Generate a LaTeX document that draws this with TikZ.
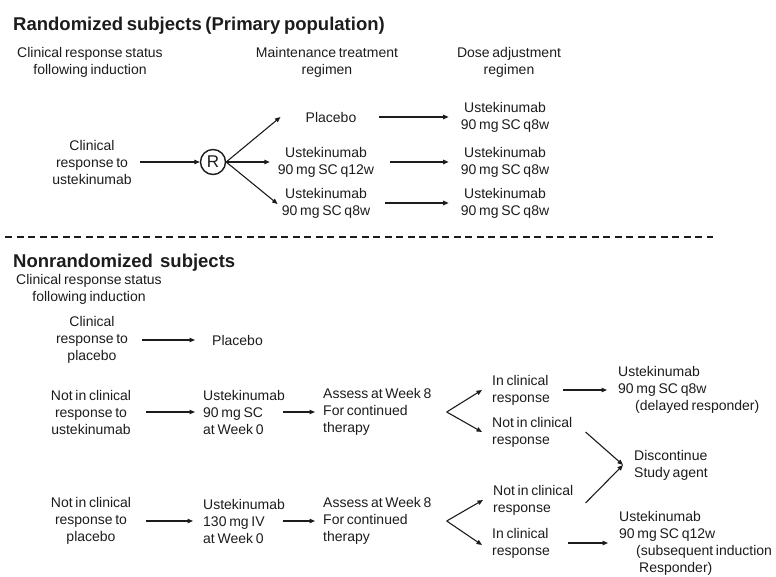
\documentclass[tikz,border=0pt]{standalone}
\usepackage{fontspec}
\setmainfont[WordSpace=0.7]{Liberation Sans}
\usetikzlibrary{arrows.meta, calc, positioning}
\definecolor{inkcol}{RGB}{28, 28, 28}
\tikzset{
  txt/.style     = {inner sep=0pt, align=center, text=inkcol,
                    font=\fontsize{14}{17}\selectfont},
  txtl/.style    = {txt, align=left, anchor=west},
  head/.style    = {inner sep=0pt, anchor=base west, text=inkcol,
                    font=\fontsize{18.5}{22}\selectfont\bfseries},
  rnd/.style     = {draw=inkcol, circle, line width=1.4pt, inner sep=0pt,
                    minimum size=25pt, text=inkcol,
                    font=\fontsize{17}{17}\selectfont},
  arr/.style     = {-{Triangle[length=5.5pt, width=4.5pt]}, draw=inkcol,
                    line width=1.1pt},
  % the split between the two populations
  divider/.style = {draw=inkcol, line width=2.4pt,
                    dash pattern=on 7pt off 4.5pt},
}
\begin{document}
\begin{tikzpicture}[x=1pt, y=-1pt]
  \useasboundingbox (0,0) rectangle (776,577);

  %% ---------------- randomized: headings ----------------
  \node[head] (ttlA) at (13,31) {Randomized subjects (Primary population)};
  \node[txt] (colA) at (90,62) {Clinical response status\\following induction};
  \node[txt] (colB) at (327,62) {Maintenance treatment\\regimen};
  \node[txt] (colC) at (509,62) {Dose adjustment\\regimen};

  %% ---------------- randomized: arms ----------------
  \node[txt] (clinA) at (92,162) {Clinical\\response to\\ustekinumab};
  \node[rnd] (rand) at (213,162) {R};
  \node[txt] (plcA) at (331,117) {Placebo};
  \node[txt] (q12A) at (326,162) {Ustekinumab\\90 mg SC q12w};
  \node[txt] (q8A)  at (326,203) {Ustekinumab\\90 mg SC q8w};
  \node[txt] (adjA) at (505,117) {Ustekinumab\\90 mg SC q8w};
  \node[txt] (adjB) at (505,162) {Ustekinumab\\90 mg SC q8w};
  \node[txt] (adjC) at (505,203) {Ustekinumab\\90 mg SC q8w};

  \draw[arr] ([xshift=8pt]clinA.east) -- (rand);
  \draw[arr] (rand.east) -- ([xshift=-25pt]plcA.west);
  \draw[arr] (rand.east) -- ([xshift=-8pt]q12A.west);
  \draw[arr] (rand.east) -- ([xshift=-4pt,yshift=-1pt]q8A.west);
  \draw[arr] ([xshift=22pt]plcA.east) -- ([xshift=-12pt]adjA.west);
  \draw[arr] ([xshift=16pt]q12A.east) -- ([xshift=-12pt]adjB.west);
  \draw[arr] ([xshift=15pt]q8A.east) -- ([xshift=-12pt]adjC.west);

  \draw[divider] (5,237) -- (713,237);

  %% ---------------- nonrandomized: headings ----------------
  \node[head] (ttlB) at (13,268) {Nonrandomized\ \ subjects};
  \node[txt] (colD) at (89,289) {Clinical response status\\following induction};

  %% ---------------- placebo responders ----------------
  \node[txt] (clinB) at (92,340) {Clinical\\response to\\placebo};
  \node[txtl] (plcB) at (212,340) {Placebo};
  \draw[arr] ([xshift=14pt]clinB.east) -- ([xshift=-17pt]plcB.west);

  %% ---------------- ustekinumab nonresponders ----------------
  \node[txt] (notA) at (91,412) {Not in clinical\\response to\\ustekinumab};
  \node[txtl] (ustA) at (203,412) {Ustekinumab\\90 mg SC\\at Week 0};
  \node[txtl] (asA) at (323,412) {Assess at Week 8\\For continued\\therapy};
  \coordinate (forkA) at ([xshift=15pt]asA.east);
  \node[txtl] (inA) at (492,390) {In clinical\\response};
  \node[txtl] (noA) at (492,432) {Not in clinical\\response};
  \node[txtl] (dlyA) at (618,390)
       {Ustekinumab\\90 mg SC q8w\\\hspace*{17pt}(delayed responder)};

  \draw[arr] ([xshift=15pt]notA.east) -- ([xshift=-8pt]ustA.west);
  \draw[arr] ([xshift=-2pt]ustA.east) -- ([xshift=-8pt]asA.west);
  \draw[arr] (forkA) -- ([xshift=-10pt]inA.west);
  \draw[arr] (forkA) -- ([xshift=-10pt]noA.west);
  \draw[arr] ([xshift=13pt]inA.east) -- ([xshift=-11pt]dlyA.west);

  %% ---------------- placebo nonresponders ----------------
  \node[txt] (notB) at (91,521) {Not in clinical\\response to\\placebo};
  \node[txtl] (ustB) at (203,521) {Ustekinumab\\130 mg IV\\at Week 0};
  \node[txtl] (asB) at (323,521) {Assess at Week 8\\For continued\\therapy};
  \coordinate (forkB) at ([xshift=15pt]asB.east);
  \node[txtl] (noB) at (493,500) {Not in clinical\\response};
  \node[txtl] (inB) at (492,543) {In clinical\\response};
  \node[txtl] (q12B) at (619,543)
       {Ustekinumab\\90 mg SC q12w\\\hspace*{17pt}(subsequent induction\\
        \hspace*{20pt}Responder)};

  \draw[arr] ([xshift=15pt]notB.east) -- ([xshift=-10pt]ustB.west);
  \draw[arr] ([xshift=-2pt]ustB.east) -- ([xshift=-8pt]asB.west);
  \draw[arr] (forkB) -- ([xshift=-10pt]noB.west);
  \draw[arr] (forkB) -- ([xshift=-10pt,yshift=-2pt]inB.west);
  \draw[arr] ([xshift=18pt]inB.east) -- ([xshift=-11pt]q12B.west);

  %% ---------------- both nonresponder paths stop ----------------
  \node[txtl] (disc) at (634,465) {Discontinue\\Study agent};
  \coordinate (merge) at ([xshift=-11pt]disc.west);
  \draw[arr] ([xshift=13pt]noA.east) -- (merge);
  \draw[arr] ([xshift=12pt,yshift=-3pt]noB.east) -- (merge);

\end{tikzpicture}
\end{document}
